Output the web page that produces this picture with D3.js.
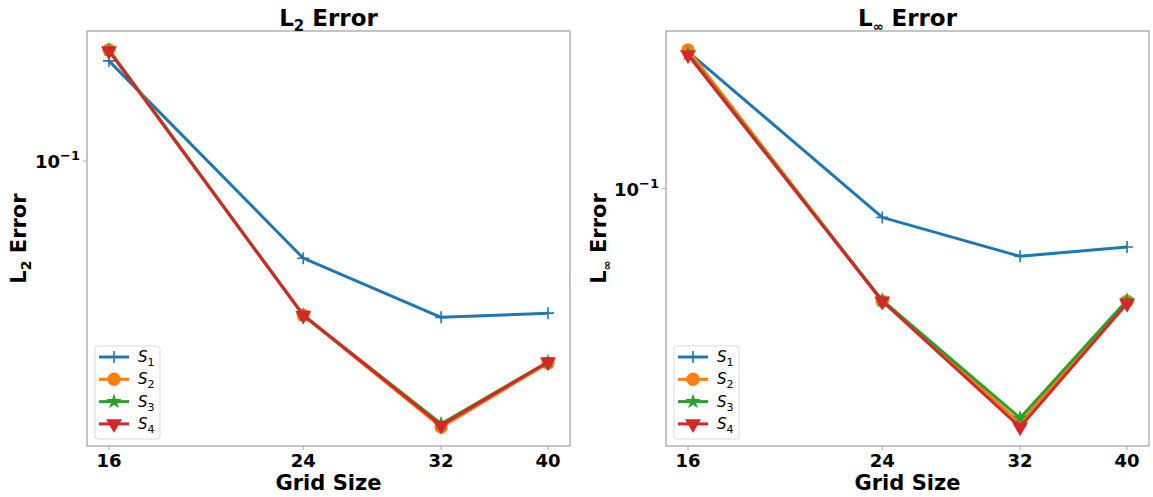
<!DOCTYPE html>
<html>
<head>
<meta charset="utf-8">
<script src="https://cdn.jsdelivr.net/npm/d3@7"></script>
<style>
  body { margin: 0; background: #fff; }
  text { font-family: "DejaVu Sans", sans-serif; }
</style>
</head>
<body>
<div id="chart"></div>
<script>
// grid sizes (x) and error values
var gridSizes = [16, 24, 32, 40];
var seriesLabels = ["1", "2", "3", "4"];
var seriesColors = ["#1f77b4", "#ff7f0e", "#2ca02c", "#d62728"];
var seriesMarkers = ["plus", "circle", "star", "triangleDown"];

var l2S1 = [0.1931, 0.0528, 0.0358, 0.0368];
var l2S2 = [0.2076, 0.0363, 0.0174, 0.0265];
var l2S3 = [0.2076, 0.0363, 0.0178, 0.0267];
var l2S4 = [0.2062, 0.0363, 0.0176, 0.0267];

var linfS1 = [0.2431, 0.0830, 0.0645, 0.0685];
var linfS2 = [0.2460, 0.0482, 0.0219, 0.0482];
var linfS3 = [0.2399, 0.0485, 0.0226, 0.0485];
var linfS4 = [0.2383, 0.0482, 0.0213, 0.0475];

var yTickValues = [0.1];

var W = 1153, H = 497;
var svg = d3.select("#chart").append("svg")
    .attr("width", W)
    .attr("height", H);

// pad a log domain by 5% on each side like matplotlib
function padLog(lo, hi){
    var a = Math.log10(lo), b = Math.log10(hi), m = (b - a) * 0.05;
    return [Math.pow(10, a - m), Math.pow(10, b + m)];
}

function markerPath(type){
    if (type === "circle") return d3.symbol().type(d3.symbolCircle).size(140)();
    if (type === "star") return d3.symbol().type(d3.symbolStar).size(75)();
    if (type === "triangleDown") return d3.symbol().type(d3.symbolTriangle).size(110)();
    return "M-6,0H6M0,-6V6";
}

function addMarker(g, type, color, x, y){
    var p = g.append("path")
        .attr("d", markerPath(type))
        .attr("transform", "translate(" + x + "," + y + ")" + (type === "triangleDown" ? " rotate(180)" : ""));
    if (type === "plus") {
        p.attr("fill", "none").attr("stroke", color).attr("stroke-width", 1.6);
    } else {
        p.attr("fill", color).attr("stroke", "none");
    }
}

function drawPanel(opts){
    var left = opts.left, top = 31, width = 483, height = 415;
    var g = svg.append("g").attr("transform", "translate(" + left + "," + top + ")");

    var allVals = d3.merge(opts.series);
    var x = d3.scaleLog().domain(padLog(16, 40)).range([0, width]);
    var y = d3.scaleLog().domain(padLog(d3.min(allVals), d3.max(allVals))).range([height, 0]);

    // frame
    g.append("rect")
        .attr("width", width)
        .attr("height", height)
        .attr("fill", "none")
        .attr("stroke", "#a6a6a6")
        .attr("stroke-width", 1.3);

    // x ticks
    var xAxis = g.append("g").attr("transform", "translate(0," + height + ")");
    gridSizes.forEach(function(d){
        xAxis.append("line")
            .attr("x1", x(d)).attr("x2", x(d))
            .attr("y1", 0).attr("y2", 4)
            .attr("stroke", "#a6a6a6");
        xAxis.append("text")
            .attr("x", x(d))
            .attr("y", 21)
            .attr("text-anchor", "middle")
            .attr("font-size", 18)
            .attr("font-weight", "bold")
            .text(d);
    });

    // y ticks (only 10^-1 inside the range)
    yTickValues.forEach(function(d){
        g.append("line")
            .attr("x1", -4).attr("x2", 0)
            .attr("y1", y(d)).attr("y2", y(d))
            .attr("stroke", "#a6a6a6");
        var t = g.append("text")
            .attr("x", -7)
            .attr("y", y(d) + 7)
            .attr("text-anchor", "end")
            .attr("font-size", 18)
            .attr("font-weight", "bold");
        t.append("tspan").text("10");
        t.append("tspan").attr("dy", -8).attr("font-size", 13).text("\u22121");
    });

    // lines + markers
    var line = d3.line()
        .x(function(d, i){ return x(gridSizes[i]); })
        .y(function(d){ return y(d); });

    opts.series.forEach(function(vals, k){
        g.append("path")
            .datum(vals)
            .attr("d", line)
            .attr("fill", "none")
            .attr("stroke", seriesColors[k])
            .attr("stroke-width", 3)
            .attr("stroke-linejoin", "round");
        vals.forEach(function(v, i){
            addMarker(g, seriesMarkers[k], seriesColors[k], x(gridSizes[i]), y(v));
        });
    });

    // title
    var title = svg.append("text")
        .attr("x", left + width / 2)
        .attr("y", 26)
        .attr("text-anchor", "middle")
        .attr("font-size", 23)
        .attr("font-weight", "bold");
    title.append("tspan").text("L");
    title.append("tspan").attr("dy", 5).attr("font-size", opts.subSize + 1).text(opts.sub);
    title.append("tspan").attr("dy", -5).text(" Error");

    // x label
    svg.append("text")
        .attr("x", left + width / 2)
        .attr("y", 490)
        .attr("text-anchor", "middle")
        .attr("font-size", 21)
        .attr("font-weight", "bold")
        .text("Grid Size");

    // y label
    var yl = svg.append("text")
        .attr("transform", "translate(" + opts.yLabelX + "," + (top + height / 2) + ") rotate(-90)")
        .attr("text-anchor", "middle")
        .attr("font-size", 21)
        .attr("font-weight", "bold");
    yl.append("tspan").text("L");
    yl.append("tspan").attr("dy", 5).attr("font-size", opts.subSize).text(opts.sub);
    yl.append("tspan").attr("dy", -5).text(" Error");

    // legend
    var lg = g.append("g").attr("transform", "translate(8," + (height - 100) + ")");
    lg.append("rect")
        .attr("width", 65)
        .attr("height", 93)
        .attr("rx", 3)
        .attr("fill", "#fff")
        .attr("fill-opacity", 0.8)
        .attr("stroke", "#d9d9d9");
    seriesLabels.forEach(function(s, k){
        var ry = 11 + k * 22.3;
        lg.append("line")
            .attr("x1", 4).attr("x2", 34)
            .attr("y1", ry).attr("y2", ry)
            .attr("stroke", seriesColors[k])
            .attr("stroke-width", 3);
        addMarker(lg, seriesMarkers[k], seriesColors[k], 19, ry);
        var t = lg.append("text")
            .attr("x", 43)
            .attr("y", ry + 5)
            .attr("font-size", 15);
        t.append("tspan").attr("font-style", "italic").text("S");
        t.append("tspan").attr("dy", 4).attr("font-size", 11).text(s);
    });
}

drawPanel({ left: 87, series: [l2S1, l2S2, l2S3, l2S4], sub: "2", subSize: 14, yLabelX: 26 });
drawPanel({ left: 666, series: [linfS1, linfS2, linfS3, linfS4], sub: "\u221e", subSize: 12, yLabelX: 606 });
</script>
</body>
</html>
